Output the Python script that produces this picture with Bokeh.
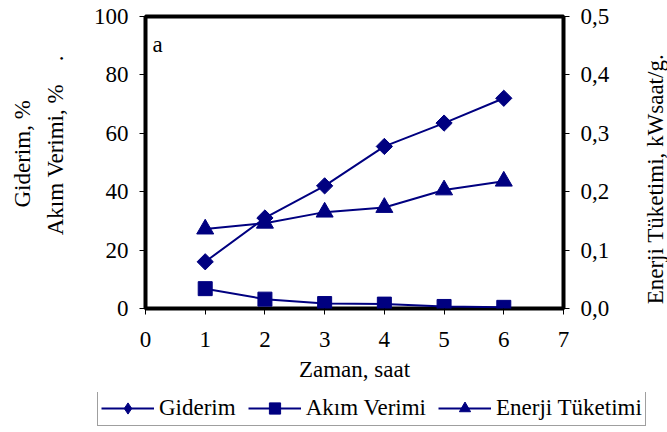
from math import pi

from bokeh.embed import file_html
from bokeh.layouts import column, row
from bokeh.models import (CustomJSTickFormatter, FixedTicker, Label, Legend,
                          LegendItem, LinearAxis, Range1d, Title)
from bokeh.plotting import figure
from bokeh.resources import INLINE

# Electrolysis run: removal, current efficiency and energy consumption over time
hours = [1, 2, 3, 4, 5, 6]
giderim = [16.0, 31.0, 42.0, 55.5, 63.5, 72.0]          # %
akim_verimi = [6.8, 3.2, 1.7, 1.5, 0.7, 0.4]            # %
enerji = [0.136, 0.146, 0.165, 0.173, 0.203, 0.218]     # kWsaat/g

x_ticks = [0, 1, 2, 3, 4, 5, 6, 7]
left_ticks = [0, 20, 40, 60, 80, 100]
right_ticks = [0.0, 0.1, 0.2, 0.3, 0.4, 0.5]
series_names = ["Giderim", "Akım Verimi", "Enerji Tüketimi"]

FONT = "Liberation Serif"
FS = "23px"
NAVY = "#000080"
NBSP = "\u00a0"


def plain(fig):
    fig.grid.visible = False
    fig.outline_line_color = None
    fig.background_fill_color = "white"
    fig.border_fill_color = "white"
    if "frame_align" in fig.properties():
        fig.frame_align = False


p = figure(width=612, height=392, x_range=Range1d(0, 7), y_range=Range1d(0, 100),
           output_backend="svg", toolbar_location=None,
           min_border_left=145, min_border_right=46,
           min_border_top=16, min_border_bottom=84)
p.background_fill_color = "white"
p.border_fill_color = "white"
p.outline_line_color = "black"
p.outline_line_width = 4
p.xgrid.visible = False
p.ygrid.visible = False

p.extra_y_ranges = {"energy": Range1d(0, 0.5)}
right_axis = LinearAxis(y_range_name="energy")
p.add_layout(right_axis, "right")

for ax in [p.xaxis[0], p.yaxis[0], right_axis]:
    ax.axis_line_color = None
    ax.major_tick_line_color = "black"
    ax.major_tick_line_width = 1
    ax.major_tick_out = 6
    ax.major_tick_in = 0
    ax.minor_tick_line_color = None
    ax.major_label_text_font = FONT
    ax.major_label_text_font_size = FS
    ax.major_label_text_color = "black"
    ax.axis_label_text_font = FONT
    ax.axis_label_text_font_size = FS
    ax.axis_label_text_font_style = "normal"
    ax.axis_label_text_color = "black"

p.xaxis[0].ticker = FixedTicker(ticks=x_ticks)
p.xaxis[0].major_label_standoff = 17
p.xaxis[0].axis_label = "Zaman, saat"
p.xaxis[0].axis_label_standoff = 7

p.yaxis[0].ticker = FixedTicker(ticks=left_ticks)
p.yaxis[0].major_label_standoff = 11
p.yaxis[0].axis_label = NBSP * 6 + "Akım Verimi, %" + NBSP * 4 + "."
p.yaxis[0].axis_label_standoff = 23

right_axis.ticker = FixedTicker(ticks=right_ticks)
right_axis.major_label_standoff = 11
right_axis.formatter = CustomJSTickFormatter(
    code="return tick.toFixed(1).replace('.', ',');")

# outer line of the left title
t1 = Title(text="Giderim, %", align="left", offset=101, vertical_align="middle",
           standoff=7, text_font=FONT, text_font_size=FS,
           text_font_style="normal", text_color="black")
p.add_layout(t1, "left")

# series
p.line(hours, giderim, line_color=NAVY, line_width=2)
p.scatter(hours, giderim, marker="square", angle=pi / 4, size=11.5,
          fill_color=NAVY, line_color=NAVY)
p.line(hours, akim_verimi, line_color=NAVY, line_width=2)
p.scatter(hours, akim_verimi, marker="square", size=14,
          fill_color=NAVY, line_color=NAVY)
p.line(hours, enerji, line_color=NAVY, line_width=2, y_range_name="energy")
p.scatter(hours, enerji, marker="triangle", size=17,
          fill_color=NAVY, line_color=NAVY, y_range_name="energy")

# panel tag
p.add_layout(Label(x=0.117, y=90.4, text="a", text_align="left",
                   text_baseline="middle", text_font=FONT,
                   text_font_size=FS, text_color="black"))

# title strip for the right-hand (energy) axis, read bottom-to-top
rt = figure(width=55, height=392, x_range=Range1d(0, 55), y_range=Range1d(0, 100),
            output_backend="svg", toolbar_location=None,
            x_axis_location=None, y_axis_location=None,
            min_border_left=0, min_border_right=0,
            min_border_top=16, min_border_bottom=84)
plain(rt)
rt.add_layout(Label(x=43, y=44.3, text="Enerji Tüketimi, kWsaat/g.", angle=pi / 2,
                    text_align="center", text_baseline="middle",
                    text_font=FONT, text_font_size=FS, text_color="black"))

# legend strip under the chart; key glyphs sit outside the strip's ranges
lg = figure(width=667, height=40, x_range=Range1d(0, 1), y_range=Range1d(0, 1),
            output_backend="svg", toolbar_location=None,
            x_axis_location=None, y_axis_location=None,
            min_border_left=0, min_border_right=0,
            min_border_top=0, min_border_bottom=0)
plain(lg)

key_markers = ["diamond", "square", "triangle"]
items = []
for name, mk in zip(series_names, key_markers):
    kl = lg.line([-10, -9], [-10, -10], line_color=NAVY, line_width=2)
    ks = lg.scatter([-10], [-10], marker=mk, size=12,
                    fill_color=NAVY, line_color=NAVY)
    items.append(LegendItem(label=name, renderers=[kl, ks]))

legend = Legend(items=items, orientation="horizontal", location=(97, 6))
legend.label_text_font = FONT
legend.label_text_font_size = FS
legend.label_text_color = "black"
legend.glyph_width = 53
legend.glyph_height = 28
legend.label_standoff = 5
legend.spacing = 12
legend.padding = 3
legend.margin = 0
legend.border_line_color = "#404040"
legend.border_line_width = 1
legend.background_fill_color = "white"
legend.background_fill_alpha = 1
lg.add_layout(legend, "center")

page = column(row(p, rt, spacing=0), lg, spacing=0)
open("out.html", "w").write(file_html(page, INLINE))
